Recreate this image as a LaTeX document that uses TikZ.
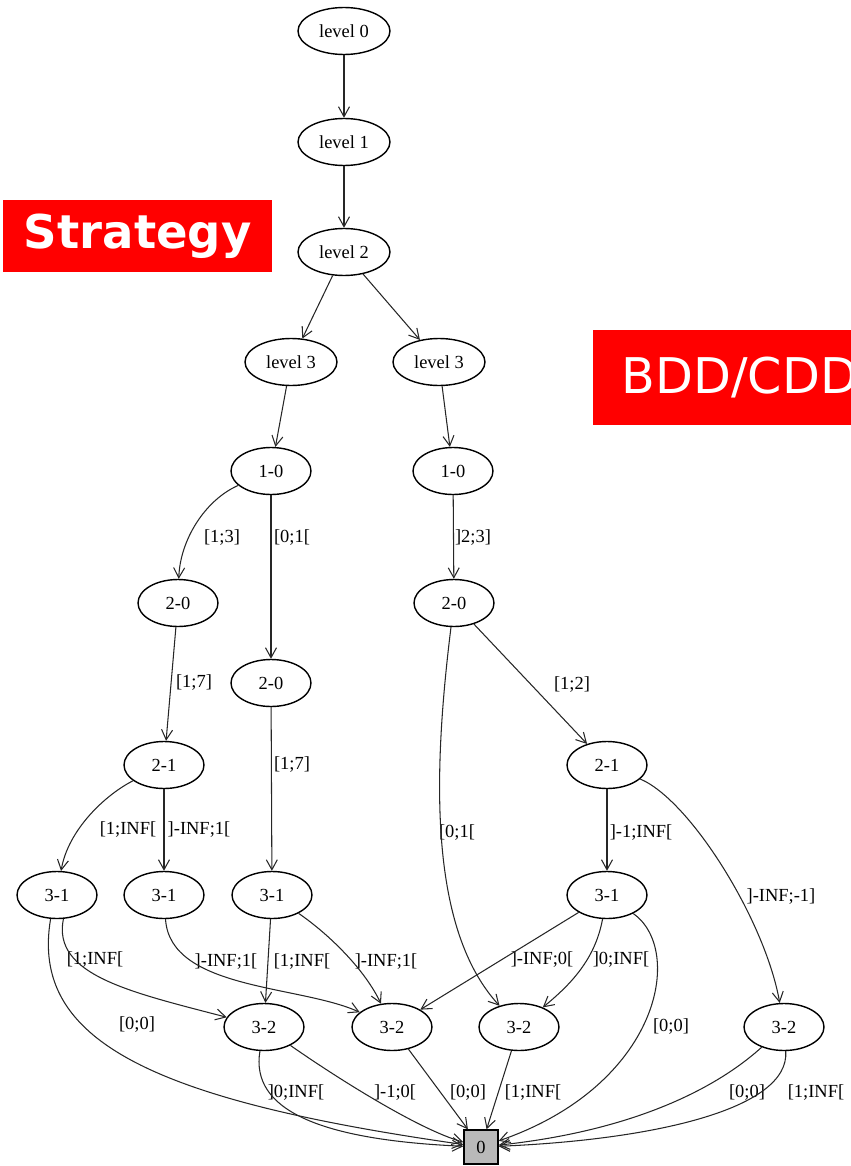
\documentclass[tikz,border=0pt]{standalone}
\usepackage{fontspec}
\setmainfont{Liberation Serif}
\newfontfamily\boxfont{DejaVu Sans}
\usetikzlibrary{arrows.meta,shapes.geometric}

\begin{document}
\begin{tikzpicture}[x=0.02cm,y=-0.02cm,
	lbl/.style={inner sep=0pt,font=\fontsize{10.5}{12}\selectfont},
	lvl/.style={lbl,draw,ellipse,line width=0.8pt,minimum width=1.84cm,minimum height=0.94cm},
	st/.style={lvl,minimum width=1.6cm},
	edge/.style={draw=black!85,line width=0.6pt,-{Straight Barb[length=2mm,width=2.2mm]}},
	redbox/.style={fill=red,text=white,anchor=north west,inner sep=0pt,font=\boxfont\fontsize{26.5}{30}\selectfont}]
\clip (0,0) rectangle (851,1166);

\node[redbox,minimum width=5.38cm,minimum height=1.44cm] (strat) at (3,200) {\bfseries Strategy};
\node[redbox,minimum width=5.86cm,minimum height=1.9cm,font=\boxfont\fontsize{28}{32}\selectfont] (bdd) at (593,330) {BDD/CDD};

\node[lvl] (lv0) at (344,31) {level 0};
\node[lvl] (lv1) at (344,142) {level 1};
\node[lvl] (lv2) at (344,252) {level 2};
\node[lvl] (lv3a) at (291,362) {level 3};
\node[lvl] (lv3b) at (439,362) {level 3};
\node[st] (a10) at (271,471) {1-0};
\node[st] (b10) at (453,471) {1-0};
\node[st] (a20) at (178,603) {2-0};
\node[st] (b20) at (271,683) {2-0};
\node[st] (c20) at (454,603) {2-0};
\node[st] (a21) at (164,765) {2-1};
\node[st] (b21) at (607,765) {2-1};
\node[st] (a31) at (57,895) {3-1};
\node[st] (b31) at (164,895) {3-1};
\node[st] (c31) at (272,895) {3-1};
\node[st] (d31) at (607,895) {3-1};
\node[st] (a32) at (264,1027) {3-2};
\node[st] (b32) at (392,1027) {3-2};
\node[st] (c32) at (519,1027) {3-2};
\node[st] (d32) at (784,1027) {3-2};
\node[lbl,draw,fill=gray!55,line width=0.8pt,minimum size=0.68cm] (zero) at (481,1147) {0};

\node[lbl] (e1) at (222,538) {[1;3]};
\node[lbl] (e2) at (292,538) {[0;1[};
\node[lbl] (e3) at (473,538) {]2;3]};
\node[lbl] (e4) at (194,683) {[1;7]};
\node[lbl] (e5) at (292,765) {[1;7]};
\node[lbl] (e6) at (572,685) {[1;2]};
\node[lbl] (e7) at (128,830) {[1;INF[};
\node[lbl] (e8) at (199,830) {]-INF;1[};
\node[lbl] (e9) at (457,833) {[0;1[};
\node[lbl] (e10) at (641,833) {]-1;INF[};
\node[lbl] (e11) at (781,897) {]-INF;-1]};
\node[lbl] (e12) at (95,960) {[1;INF[};
\node[lbl] (e13) at (137,1025) {[0;0]};
\node[lbl] (e14) at (226,962) {]-INF;1[};
\node[lbl] (e15) at (302,962) {[1;INF[};
\node[lbl] (e16) at (386,962) {]-INF;1[};
\node[lbl] (e17) at (542,960) {]-INF;0[};
\node[lbl] (e18) at (621,960) {]0;INF[};
\node[lbl] (e19) at (671,1027) {[0;0]};
\node[lbl] (e20) at (296,1093) {]0;INF[};
\node[lbl] (e21) at (395,1093) {]-1;0[};
\node[lbl] (e22) at (468,1093) {[0;0]};
\node[lbl] (e23) at (533,1093) {[1;INF[};
\node[lbl] (e24) at (747,1093) {[0;0]};
\node[lbl] (e25) at (816,1093) {[1;INF[};

\draw[edge] (lv0) -- (lv1);
\draw[edge] (lv1) -- (lv2);
\draw[edge] (lv2) -- (lv3a);
\draw[edge] (lv2) -- (lv3b);
\draw[edge] (lv3a) -- (a10);
\draw[edge] (lv3b) -- (b10);
\draw[edge] (a10) .. controls (205,500) and (180,540) .. (a20);
\draw[edge] (a10) -- (b20);
\draw[edge] (b10) -- (c20);
\draw[edge] (a20) -- (a21);
\draw[edge] (b20) -- (c31);
\draw[edge] (c20) -- (b21);
\draw[edge] (c20) .. controls (432,780) and (430,930) .. (c32);
\draw[edge] (b21) -- (d31);
\draw[edge] (b21) .. controls (690,800) and (765,920) .. (d32);
\draw[edge] (a21) .. controls (105,795) and (68,830) .. (a31);
\draw[edge] (a21) -- (b31);
\draw[edge] (a31.-75) .. controls (52,975) and (130,992) .. (a32);
\draw[edge] (a31.-105) .. controls (30,1040) and (150,1100) .. (zero);
\draw[edge] (b31) .. controls (170,990) and (300,985) .. (b32);
\draw[edge] (c31) -- (a32);
\draw[edge] (c31) .. controls (330,935) and (365,970) .. (b32);
\draw[edge] (d31) -- (b32);
\draw[edge] (d31) .. controls (595,960) and (570,985) .. (c32);
\draw[edge] (d31) .. controls (685,950) and (660,1085) .. (zero);
\draw[edge] (a32) .. controls (250,1110) and (320,1140) .. (zero);
\draw[edge] (a32) .. controls (340,1080) and (420,1130) .. (zero);
\draw[edge] (b32) -- (zero);
\draw[edge] (c32) -- (zero);
\draw[edge] (d32) .. controls (720,1085) and (640,1130) .. (zero);
\draw[edge] (d32) .. controls (790,1110) and (650,1140) .. (zero);
\end{tikzpicture}
\end{document}
